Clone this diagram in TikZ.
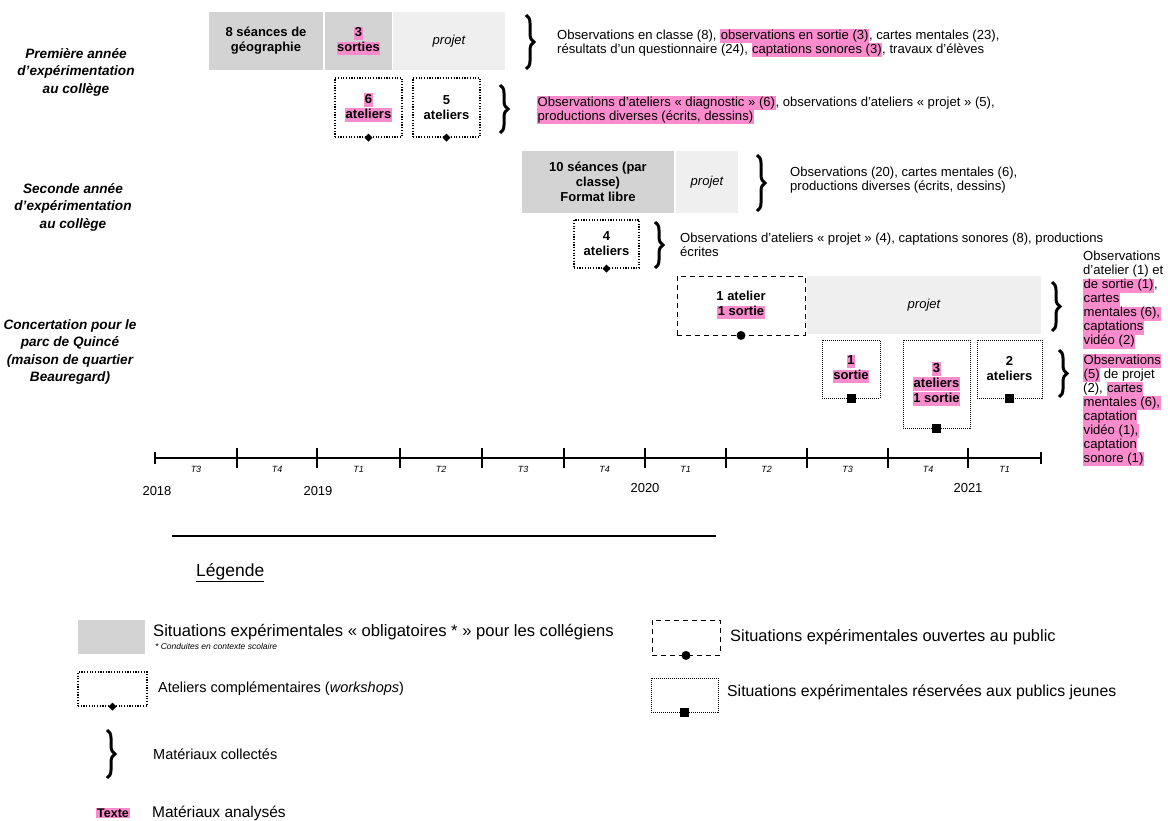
\documentclass[tikz,border=0pt]{standalone}
\usepackage{fontspec}
\setmainfont{Liberation Sans}
\usepackage{xcolor}
\usetikzlibrary{positioning,shapes.geometric,decorations.pathreplacing}

\definecolor{gris}{RGB}{211,211,211}
\definecolor{grisclair}{RGB}{239,239,239}
\definecolor{rosehl}{RGB}{250,140,205}
\newcommand{\hlt}[1]{{\setlength{\fboxsep}{0.5pt}\colorbox{rosehl}{\rule[-0.23em]{0pt}{0.94em}#1}}}

\tikzset{
  boite/.style={inner sep=0pt, align=center, font=\fontsize{13}{15}\selectfont\bfseries},
  oblig/.style={boite, fill=gris},
  libre/.style={boite, fill=grisclair, font=\fontsize{13}{15}\selectfont\itshape},
  atelier/.style={boite, draw, line width=1.3pt, dash pattern=on 1.2pt off 1.5pt},
  public/.style={boite, draw, line width=0.9pt, dash pattern=on 5pt off 4pt},
  jeunes/.style={boite, draw, line width=0.6pt, dash pattern=on 1pt off 1pt},
  losange/.style={diamond, fill=black, inner sep=0pt, minimum size=8pt},
  rond/.style={circle, fill=black, inner sep=0pt, minimum size=9pt},
  carre/.style={rectangle, fill=black, inner sep=0pt, minimum size=9pt},
  texte/.style={inner sep=0pt, anchor=west, align=left, font=\fontsize{13.1}{14}\selectfont},
  etiquette/.style={inner sep=0pt, align=center, font=\fontsize{13.6}{17.5}\selectfont\bfseries\itshape},
  accolade/.style={decorate, decoration={brace, amplitude=8pt}, line width=3pt},
  legende/.style={inner sep=0pt, anchor=west, font=\fontsize{14.5}{17}\selectfont},
}

\begin{document}
\begin{tikzpicture}[x=1pt,y=-1pt]
	\useasboundingbox (0,0) rectangle (1168,821);
	
	% row labels
	\node[etiquette] (annee1) at (76,72) {Première année\\d’expérimentation\\au collège};
	\node[etiquette] (annee2) at (73,207) {Seconde année\\d’expérimentation\\au collège};
	\node[etiquette] (quince) at (70,352) {Concertation pour le\\parc de Quincé\\(maison de quartier\\Beauregard)};
	
	% first year
	\node[oblig, minimum width=114pt, minimum height=58pt] (seances8) at (266,41) {8 séances de\\géographie};
	\node[oblig, minimum width=67pt, minimum height=58pt] (sorties3) at (358.5,41) {\hlt{3}\\\hlt{sorties}};
	\node[libre, minimum width=112pt, minimum height=58pt] (projet1) at (449,41) {projet};
	\draw[accolade] (526,15) -- (526,69);
	\node[texte] (obs1) at (557,43) {Observations en classe (8), \hlt{observations en sortie (3)}, cartes mentales (23),\\résultats d’un questionnaire (24), \hlt{captations sonores (3)}, travaux d’élèves};
	
	\node[atelier, minimum width=67pt, minimum height=59pt] (at6) at (368.5,107.5) {\hlt{6}\\\hlt{ateliers}};
	\node[atelier, minimum width=67pt, minimum height=59pt] (at5) at (446.5,107.5) {5\\ateliers};
	\node[losange] (m6) at (at6.south) {};
	\node[losange] (m5) at (at5.south) {};
	\draw[accolade] (500,85) -- (500,133);
	\node[texte] (obs1b) at (537,110) {\hlt{Observations d’ateliers « diagnostic » (6)}, observations d’ateliers « projet » (5),\\\hlt{productions diverses (écrits, dessins)}};
	
	% second year
	\node[oblig, minimum width=152pt, minimum height=62pt] (seances10) at (598,182) {10 séances (par\\classe)\\Format libre};
	\node[libre, minimum width=62pt, minimum height=62pt] (projet2) at (707,182) {projet};
	\draw[accolade] (757,155) -- (757,211);
	\node[texte] (obs2) at (790,180) {Observations (20), cartes mentales (6),\\productions diverses (écrits, dessins)};
	
	\node[atelier, minimum width=65pt, minimum height=48pt] (at4) at (606.5,244) {4\\ateliers};
	\node[losange] (m4) at (at4.south) {};
	\draw[accolade] (655,222) -- (655,268);
	\node[texte] (obs2b) at (680,245) {Observations d’ateliers « projet » (4), captations sonores (8), productions\\écrites};
	
	% Quince
	\node[public, minimum width=128pt, minimum height=59pt] (ouvert) at (741,305.5) {1 atelier\\\hlt{1 sortie}};
	\node[rond] (mo) at (ouvert.south) {};
	\node[libre, minimum width=234pt, minimum height=58pt] (projet3) at (924,305) {projet};
	\draw[accolade] (1052,282) -- (1052,331);
	\node[texte] (obs3) at (1083,300) {Observations\\d’atelier (1) et\\\hlt{de sortie (1)},\\\hlt{cartes}\\\hlt{mentales (6),}\\\hlt{captations}\\\hlt{vidéo (2)}};
	
	\node[jeunes, minimum width=58pt, minimum height=58pt] (sortie1) at (851,369) {\hlt{1}\\\hlt{sortie}};
	\node[jeunes, minimum width=67pt, minimum height=88pt] (at3) at (936.5,384) {\hlt{3}\\\hlt{ateliers}\\\hlt{1 sortie}};
	\node[jeunes, minimum width=65pt, minimum height=58pt] (at2) at (1009.5,369) {2\\ateliers};
	\node[carre] (ms1) at (sortie1.south) {};
	\node[carre] (ma3) at (at3.south) {};
	\node[carre] (ma2) at (at2.south) {};
	\draw[accolade] (1059,350) -- (1059,397);
	\node[texte] (obs3b) at (1083,410) {\hlt{Observations}\\\hlt{(5)} de projet\\(2), \hlt{cartes}\\\hlt{mentales (6),}\\\hlt{captation}\\\hlt{vidéo (1),}\\\hlt{captation}\\\hlt{sonore (1)}};
	
	% timeline
	\draw[line width=1.5pt] (155,458) -- (1041,458);
	\foreach \x in {237,317,400,482,564,645,726,807,888,968}
		\draw[line width=1.5pt] (\x,448) -- (\x,468);
	\foreach \x in {155,1041}
		\draw[line width=1.5pt] (\x,452) -- (\x,464);
	\foreach \x/\t [count=\i] in {196/T3,277/T4,358.5/T1,441/T2,523/T3,604.5/T4,685.5/T1,766.5/T2,847.5/T3,928/T4,1004.5/T1}
		\node[inner sep=0pt, font=\fontsize{9}{10}\selectfont\itshape] (q\i) at (\x,469.5) {\t};
	\node[font=\fontsize{13}{14}\selectfont] (an18) at (157,491) {2018};
	\node[font=\fontsize{13}{14}\selectfont] (an19) at (318,491) {2019};
	\node[font=\fontsize{13}{14}\selectfont] (an20) at (645,488) {2020};
	\node[font=\fontsize{13}{14}\selectfont] (an21) at (968,488) {2021};
	
	\draw[line width=1.5pt] (172,536) -- (716,536);
	
	% legend
	\node[legende, font=\fontsize{17.5}{19}\selectfont] (legtitre) at (196,573) {\underline{Légende}};
	
	\node[fill=gris, minimum width=67pt, minimum height=34pt] (leg1) at (111.5,637) {};
	\node[legende, font=\fontsize{16.6}{18}\selectfont] (legt1) at (153,632) {Situations expérimentales « obligatoires * » pour les collégiens};
	\node[inner sep=0pt, anchor=west, font=\fontsize{8.5}{9}\selectfont\itshape] (legnote) at (155,646) {* Conduites en contexte scolaire};
	
	\node[atelier, minimum width=69pt, minimum height=34pt] (leg2) at (112.5,689) {};
	\node[losange] (mleg2) at (leg2.south) {};
	\node[legende, font=\fontsize{14.5}{17}\selectfont] (legt2) at (158,689) {Ateliers complémentaires (\textit{workshops})};
	
	\draw[accolade] (107,730) -- (107,778);
	\node[legende] (legt3) at (153,754) {Matériaux collectés};
	
	\node[inner sep=1pt, fill=rosehl, font=\fontsize{12.5}{13}\selectfont\bfseries] (legtexte) at (113,813) {Texte};
	\node[legende, font=\fontsize{15.5}{17}\selectfont] (legt4) at (152,813) {Matériaux analysés};
	
	\node[public, minimum width=68pt, minimum height=35pt] (leg3) at (686,637.5) {};
	\node[rond] (mleg3) at (leg3.south) {};
	\node[legende, font=\fontsize{16.4}{18}\selectfont] (legt5) at (730,637) {Situations expérimentales ouvertes au public};
	
	\node[jeunes, minimum width=67pt, minimum height=34pt] (leg4) at (684.5,695) {};
	\node[carre] (mleg4) at (leg4.south) {};
	\node[legende, font=\fontsize{15.8}{17}\selectfont] (legt6) at (727,692) {Situations expérimentales réservées aux publics jeunes};
\end{tikzpicture}
\end{document}
